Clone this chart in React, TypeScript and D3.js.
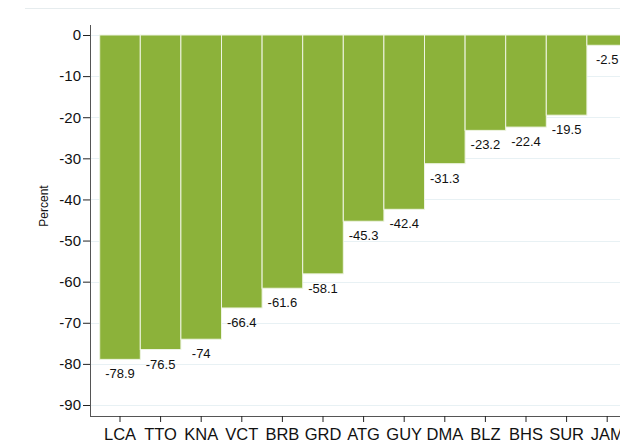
import React, { useEffect, useRef } from 'react';
import * as d3 from 'd3';

const countries = ['LCA', 'TTO', 'KNA', 'VCT', 'BRB', 'GRD', 'ATG', 'GUY', 'DMA', 'BLZ', 'BHS', 'SUR', 'JAM'];
const percentChange = [-78.9, -76.5, -74, -66.4, -61.6, -58.1, -45.3, -42.4, -31.3, -23.2, -22.4, -19.5, -2.5];
const yTicks = [0, -10, -20, -30, -40, -50, -60, -70, -80, -90];

const W = 620;
const H = 444;

const App: React.FC = () => {
  const svgRef = useRef<SVGSVGElement>(null);

  useEffect(() => {
    if (!svgRef.current) return;
    const svg = d3.select(svgRef.current);
    svg.selectAll('*').remove();

    const font = 'Liberation Sans, Arial, sans-serif';
    const axisX = 90;
    const y = d3.scaleLinear().domain([0, -90]).range([35, 405]);
    const x = d3.scaleBand<string>()
      .domain(countries)
      .range([99.7, 99.7 + countries.length * 40.6])
      .padding(0);

    // outer frame top line
    svg.append('line')
      .attr('x1', 25).attr('x2', W)
      .attr('y1', 8.5).attr('y2', 8.5)
      .attr('stroke', '#e6ecee');

    // gridlines
    svg.append('g')
      .selectAll('line')
      .data(yTicks)
      .join('line')
      .attr('x1', axisX).attr('x2', W)
      .attr('y1', d => Math.round(y(d)) + 0.5)
      .attr('y2', d => Math.round(y(d)) + 0.5)
      .attr('stroke', '#e8f1f4');

    // bars
    svg.append('g')
      .selectAll('rect')
      .data(percentChange)
      .join('rect')
      .attr('x', (_, i) => x(countries[i])!)
      .attr('y', y(0))
      .attr('width', x.bandwidth())
      .attr('height', d => y(d) - y(0))
      .attr('fill', '#8cb23a')
      .attr('stroke', '#eef4e2')
      .attr('stroke-width', 1);

    // value labels
    svg.append('g')
      .selectAll('text')
      .data(percentChange)
      .join('text')
      .attr('x', (_, i) => x(countries[i])! + x.bandwidth() / 2)
      .attr('y', d => y(d) + 19)
      .attr('text-anchor', 'middle')
      .attr('font-family', font)
      .attr('font-size', 13)
      .attr('fill', '#111')
      .text(d => String(d));

    // y axis
    const yAxis = svg.append('g').attr('transform', `translate(${axisX},0)`);
    yAxis.call(
      d3.axisLeft(y).tickValues(yTicks).tickSize(7).tickPadding(2).tickFormat(d => String(d))
    );
    yAxis.select('.domain').attr('d', 'M0.5,25V416').attr('stroke', '#555');
    yAxis.selectAll('.tick line').attr('stroke', '#222');
    yAxis.selectAll('.tick text')
      .attr('font-family', font)
      .attr('font-size', 15)
      .attr('fill', '#111');

    // x axis
    const xAxis = svg.append('g').attr('transform', 'translate(0,416)');
    xAxis.call(d3.axisBottom(x).tickSize(6).tickPadding(6));
    xAxis.select('.domain').attr('d', `M${axisX},0.5H${W}`).attr('stroke', '#555');
    xAxis.selectAll('.tick line').attr('stroke', '#222');
    xAxis.selectAll('.tick text')
      .attr('font-family', font)
      .attr('font-size', 16.5)
      .attr('fill', '#111');

    // y title
    svg.append('text')
      .attr('transform', 'translate(48,206) rotate(-90)')
      .attr('text-anchor', 'middle')
      .attr('font-family', font)
      .attr('font-size', 12)
      .attr('fill', '#111')
      .text('Percent');
  }, []);

  return (
    <svg
      ref={svgRef}
      width={W}
      height={H}
      style={{ position: 'absolute', left: 0, top: 0, background: '#fff' }}
    />
  );
};

export default App;
